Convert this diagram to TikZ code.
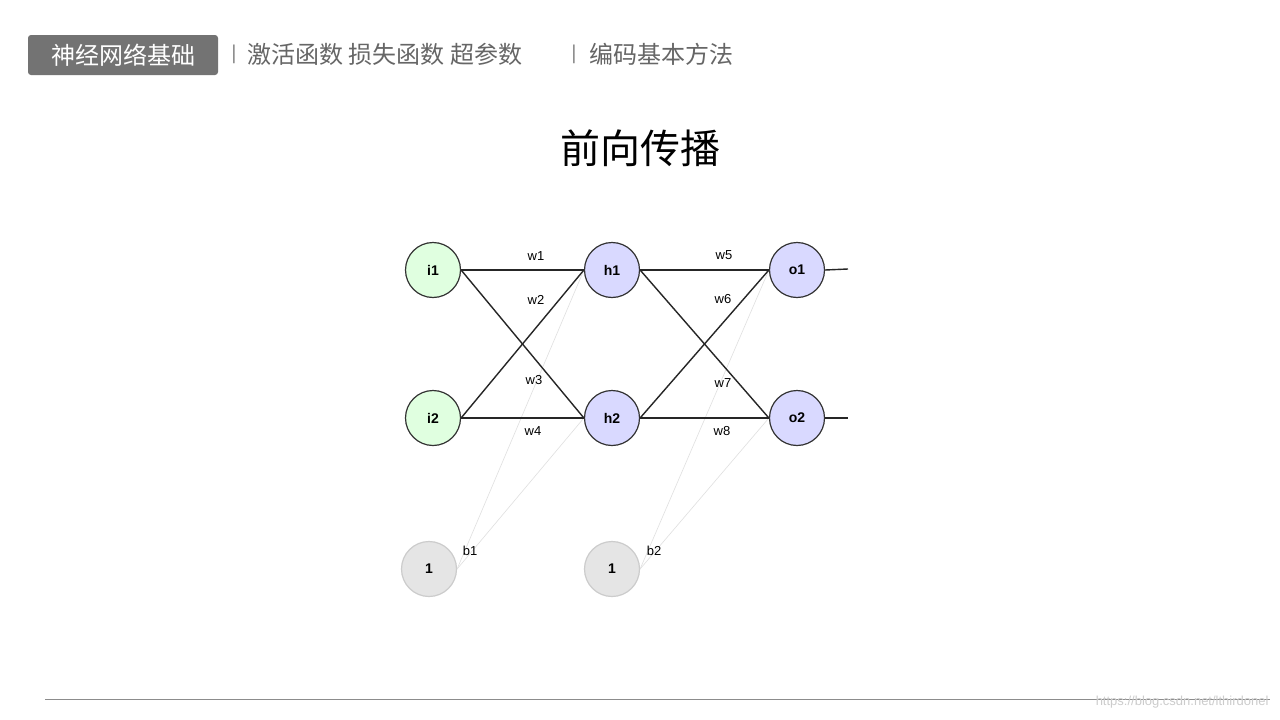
\documentclass[tikz,border=0pt]{standalone}
\usepackage{fontspec}
\setmainfont{Liberation Sans}
\newfontfamily\cjk{Noto Sans CJK SC}
\begin{document}
\begin{tikzpicture}[x=1pt,y=-1pt,
  neuron/.style={circle,draw=black!80,line width=1.2pt,minimum size=55pt,inner sep=0pt,font=\fontsize{14}{14}\selectfont\bfseries},
  inp/.style={neuron,fill=green!12!white},
  hid/.style={neuron,fill=blue!15!white},
  bias/.style={neuron,fill=black!10,draw=black!20},
  wire/.style={line width=1.4pt,black!85},
  bwire/.style={line width=0.6pt,black!12},
  wl/.style={font=\fontsize{13}{13}\selectfont}]
\useasboundingbox (0,0) rectangle (1280,720);
\fill[white] (0,0) rectangle (1280,720);
% header
\node[fill=black!55,rounded corners=3pt,minimum width=190pt,minimum height=40pt,text=white,font=\cjk\fontsize{24}{24}\selectfont] (hd) at (123,55) {神经网络基础};
\node[text=black!45,font=\fontsize{20}{20}\selectfont] (s1) at (234,54) {|};
\node[text=black!60,font=\cjk\fontsize{24}{24}\selectfont,anchor=west] (h2t) at (244,54) {激活函数 损失函数 超参数};
\node[text=black!45,font=\fontsize{20}{20}\selectfont] (s2) at (574,54) {|};
\node[text=black!60,font=\cjk\fontsize{24}{24}\selectfont,anchor=west] (h3t) at (586,54) {编码基本方法};
\node[font=\cjk\fontsize{40}{40}\selectfont] (title) at (640,148) {前向传播};
% network
\node[inp] (i1) at (433,270) {i1};
\node[inp] (i2) at (433,418) {i2};
\node[hid] (h1) at (612,270) {h1};
\node[hid] (h2) at (612,418) {h2};
\node[hid] (o1) at (797,270) {o1};
\node[hid] (o2) at (797,418) {o2};
\node[bias] (b1) at (429,569) {1};
\node[bias] (b2) at (612,569) {1};
\coordinate (e1) at (848,269);
\coordinate (e2) at (848,418);
\draw[bwire] (b1.east) -- (h1.west);
\draw[bwire] (b1.east) -- (h2.west);
\draw[bwire] (b2.east) -- (o1.west);
\draw[bwire] (b2.east) -- (o2.west);
\draw[wire] (i1.east) -- (h1.west);
\draw[wire] (i1.east) -- (h2.west);
\draw[wire] (i2.east) -- (h1.west);
\draw[wire] (i2.east) -- (h2.west);
\draw[wire] (h1.east) -- (o1.west);
\draw[wire] (h1.east) -- (o2.west);
\draw[wire] (h2.east) -- (o1.west);
\draw[wire] (h2.east) -- (o2.west);
\draw[wire] (o1.east) -- (e1);
\draw[wire] (o2.east) -- (e2);
\node[wl] (w1) at (536,256) {w1};
\node[wl] (w2) at (536,300) {w2};
\node[wl] (w3) at (534,380) {w3};
\node[wl] (w4) at (533,431) {w4};
\node[wl] (w5) at (724,255) {w5};
\node[wl] (w6) at (723,299) {w6};
\node[wl] (w7) at (723,383) {w7};
\node[wl] (w8) at (722,431) {w8};
\node[wl] (lb1) at (470,551) {b1};
\node[wl] (lb2) at (654,551) {b2};
% footer
\coordinate (f1) at (45,699);
\coordinate (f2) at (1270,699);
\draw[black!45,line width=0.8pt] (f1) -- (f2);
\node[text=black!20,font=\fontsize{13}{13}\selectfont,anchor=east] (wm) at (1272,702) {https://blog.csdn.net/lthirdonel};
\end{tikzpicture}
\end{document}
